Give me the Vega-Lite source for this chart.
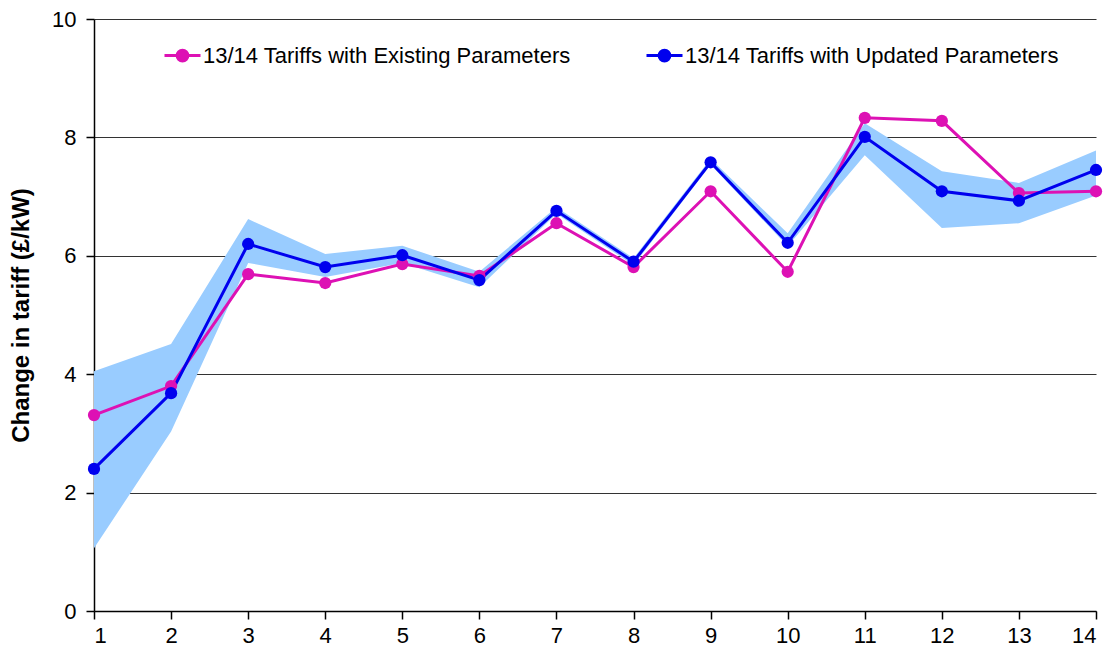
{
  "$schema": "https://vega.github.io/schema/vega-lite/v6.json",
  "width": 1002,
  "height": 592,
  "autosize": {"type": "none"},
  "padding": {"left": 94, "top": 19, "right": 22, "bottom": 50},
  "background": "white",
  "config": {
    "view": {"stroke": null},
    "font": "Liberation Sans",
    "axis": {
      "labelFont": "Liberation Sans",
      "labelFontSize": 22,
      "labelColor": "#000000",
      "domainColor": "#000000",
      "domainWidth": 1.5,
      "tickColor": "#000000",
      "tickSize": 8,
      "tickWidth": 1.5
    }
  },
  "datasets": {
    "band": [
      {"zone": 1, "lower": 1.06, "upper": 4.05},
      {"zone": 2, "lower": 3.03, "upper": 4.51},
      {"zone": 3, "lower": 5.88, "upper": 6.62},
      {"zone": 4, "lower": 5.64, "upper": 6.03},
      {"zone": 5, "lower": 5.88, "upper": 6.17},
      {"zone": 6, "lower": 5.47, "upper": 5.73},
      {"zone": 7, "lower": 6.71, "upper": 6.82},
      {"zone": 8, "lower": 5.84, "upper": 5.96},
      {"zone": 9, "lower": 7.54, "upper": 7.64},
      {"zone": 10, "lower": 6.16, "upper": 6.38},
      {"zone": 11, "lower": 7.7, "upper": 8.24},
      {"zone": 12, "lower": 6.47, "upper": 7.43},
      {"zone": 13, "lower": 6.55, "upper": 7.23},
      {"zone": 14, "lower": 7.02, "upper": 7.78}
    ],
    "tariffs": [
      {"zone": 1, "series": "13/14 Tariffs with Existing Parameters", "change": 3.31},
      {"zone": 2, "series": "13/14 Tariffs with Existing Parameters", "change": 3.8},
      {"zone": 3, "series": "13/14 Tariffs with Existing Parameters", "change": 5.69},
      {"zone": 4, "series": "13/14 Tariffs with Existing Parameters", "change": 5.54},
      {"zone": 5, "series": "13/14 Tariffs with Existing Parameters", "change": 5.86},
      {"zone": 6, "series": "13/14 Tariffs with Existing Parameters", "change": 5.66},
      {"zone": 7, "series": "13/14 Tariffs with Existing Parameters", "change": 6.55},
      {"zone": 8, "series": "13/14 Tariffs with Existing Parameters", "change": 5.81},
      {"zone": 9, "series": "13/14 Tariffs with Existing Parameters", "change": 7.09},
      {"zone": 10, "series": "13/14 Tariffs with Existing Parameters", "change": 5.73},
      {"zone": 11, "series": "13/14 Tariffs with Existing Parameters", "change": 8.33},
      {"zone": 12, "series": "13/14 Tariffs with Existing Parameters", "change": 8.28},
      {"zone": 13, "series": "13/14 Tariffs with Existing Parameters", "change": 7.06},
      {"zone": 14, "series": "13/14 Tariffs with Existing Parameters", "change": 7.09},
      {"zone": 1, "series": "13/14 Tariffs with Updated Parameters", "change": 2.4},
      {"zone": 2, "series": "13/14 Tariffs with Updated Parameters", "change": 3.68},
      {"zone": 3, "series": "13/14 Tariffs with Updated Parameters", "change": 6.2},
      {"zone": 4, "series": "13/14 Tariffs with Updated Parameters", "change": 5.81},
      {"zone": 5, "series": "13/14 Tariffs with Updated Parameters", "change": 6.01},
      {"zone": 6, "series": "13/14 Tariffs with Updated Parameters", "change": 5.59},
      {"zone": 7, "series": "13/14 Tariffs with Updated Parameters", "change": 6.76},
      {"zone": 8, "series": "13/14 Tariffs with Updated Parameters", "change": 5.9},
      {"zone": 9, "series": "13/14 Tariffs with Updated Parameters", "change": 7.58},
      {"zone": 10, "series": "13/14 Tariffs with Updated Parameters", "change": 6.22},
      {"zone": 11, "series": "13/14 Tariffs with Updated Parameters", "change": 8.01},
      {"zone": 12, "series": "13/14 Tariffs with Updated Parameters", "change": 7.09},
      {"zone": 13, "series": "13/14 Tariffs with Updated Parameters", "change": 6.93},
      {"zone": 14, "series": "13/14 Tariffs with Updated Parameters", "change": 7.45}
    ]
  },
  "encoding": {
    "x": {
      "field": "zone",
      "type": "quantitative",
      "scale": {"domain": [1, 14], "nice": false, "zero": false},
      "axis": {
        "title": null,
        "values": [1, 2, 3, 4, 5, 6, 7, 8, 9, 10, 11, 12, 13, 14],
        "format": "d",
        "grid": false,
        "labelPadding": 6
      }
    }
  },
  "layer": [
    {
      "data": {"name": "band"},
      "mark": {"type": "area", "color": "#99CCFF", "opacity": 1},
      "encoding": {
        "y": {
          "field": "lower",
          "type": "quantitative",
          "scale": {"domain": [0, 10], "nice": false},
          "axis": {
            "title": "Change in tariff (£/kW)",
            "titleFont": "Liberation Sans",
            "titleFontSize": 24,
            "titleFontWeight": "bold",
            "titleColor": "#000000",
            "titlePadding": 18,
            "values": [0, 2, 4, 6, 8, 10],
            "format": "d",
            "grid": true,
            "gridColor": "#333333",
            "gridWidth": 1.2,
            "labelPadding": 10
          }
        },
        "y2": {"field": "upper"}
      }
    },
    {
      "data": {"name": "tariffs"},
      "mark": {
        "type": "line",
        "strokeWidth": 3,
        "point": {"filled": true, "size": 150, "opacity": 1}
      },
      "encoding": {
        "y": {"field": "change", "type": "quantitative"},
        "color": {
          "field": "series",
          "type": "nominal",
          "scale": {
            "domain": ["13/14 Tariffs with Existing Parameters", "13/14 Tariffs with Updated Parameters"],
            "range": ["#DD11B4", "#0000EE"]
          },
          "legend": {
            "title": null,
            "orient": "none",
            "legendX": 69,
            "legendY": 17,
            "direction": "horizontal",
            "columns": 2,
            "columnPadding": 69,
            "padding": 0,
            "labelFont": "Liberation Sans",
            "labelFontSize": 22,
            "labelColor": "#000000",
            "labelOffset": 1,
            "labelLimit": 600,
            "symbolType": "M-1,0L1,0M-0.3,0A0.3,0.3 0 1,0 0.3,0A0.3,0.3 0 1,0 -0.3,0Z",
            "symbolSize": 1296,
            "symbolStrokeWidth": 3,
            "encode": {
              "symbols": {
                "update": {
                  "fill": {"scale": "color", "field": "value"},
                  "stroke": {"scale": "color", "field": "value"},
                  "opacity": {"value": 1}
                }
              }
            }
          }
        }
      }
    }
  ]
}
